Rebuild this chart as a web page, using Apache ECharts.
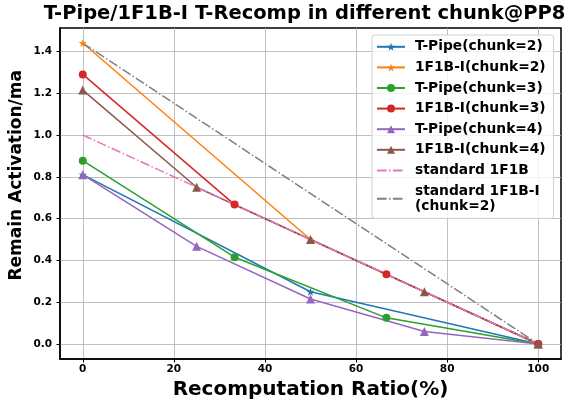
<!DOCTYPE html>
<html><head><meta charset="utf-8">
<script src="https://cdn.jsdelivr.net/npm/echarts@6/dist/echarts.min.js"></script>
<style>html,body{margin:0;padding:0;background:#fff}#c{width:577px;height:402px}</style>
</head><body><div id="c"></div>
<script>
const seriesNames = ['T-Pipe(chunk=2)','1F1B-I(chunk=2)','T-Pipe(chunk=3)','1F1B-I(chunk=3)','T-Pipe(chunk=4)','1F1B-I(chunk=4)','standard 1F1B','standard 1F1B-I(chunk=2)'];
const xChunk2 = [0, 50, 100];
const xChunk3 = [0, 33.33, 66.67, 100];
const xChunk4 = [0, 25, 50, 75, 100];
const xStd = [0, 100];
const tPipe2 = [0.81, 0.25, 0];
const f1b1i2 = [1.44, 0.5, 0];
const tPipe3 = [0.877, 0.415, 0.125, 0];
const f1b1i3 = [1.29, 0.667, 0.333, 0];
const tPipe4 = [0.81, 0.467, 0.215, 0.06, 0];
const f1b1i4 = [1.215, 0.75, 0.5, 0.25, 0];
const std1f1b = [1.0, 0];
const std1f1bI = [1.44, 0];
const xTicks = [0, 20, 40, 60, 80, 100];
const yTicks = [0, 0.2, 0.4, 0.6, 0.8, 1.0, 1.2, 1.4];

const colors = ['#1f77b4','#ff7f0e','#2ca02c','#d62728','#9467bd','#8c564b','#e377c2','#7f7f7f'];
const pairs = (xs, ys) => xs.map((x, i) => [x, ys[i]]);
const dashDot = [9.6, 2.4, 1.5, 2.4];
function mk(i, xs, ys, symbol, size, dashed) {
  return {
    name: seriesNames[i], type: 'line', data: pairs(xs, ys),
    symbol: symbol || 'none', symbolSize: size || 0, showSymbol: !!symbol,
    color: colors[i],
    lineStyle: {width: 1.5, color: colors[i], type: dashed ? dashDot : 'solid'},
    itemStyle: {color: colors[i]},
    z: 2, animation: false
  };
}
const star = 'path://M0,-10 L2.35,-3.24 L9.51,-3.09 L3.8,1.24 L5.88,8.09 L0,4 L-5.88,8.09 L-3.8,1.24 L-9.51,-3.09 L-2.35,-3.24 Z';
const tri = 'path://M0,-10 L8.66,5 L-8.66,5 Z';
const series = [
  mk(0, xChunk2, tPipe2, star, 8),
  mk(1, xChunk2, f1b1i2, star, 8),
  mk(2, xChunk3, tPipe3, 'circle', 8),
  mk(3, xChunk3, f1b1i3, 'circle', 8),
  mk(4, xChunk4, tPipe4, tri, 9),
  mk(5, xChunk4, f1b1i4, tri, 9),
  mk(6, xStd, std1f1b, null, 0, true),
  mk(7, xStd, std1f1bI, null, 0, true)
];
const font = 'DejaVu Sans';
const legendData = seriesNames.map((n, i) => i >= 6 ? {name: n, itemStyle: {opacity: 0}} : {name: n});
const chart = echarts.init(document.getElementById('c'), null, {renderer: 'canvas'});
chart.setOption({
  animation: false,
  backgroundColor: '#fff',
  title: {text: 'T-Pipe/1F1B-I T-Recomp in different chunk@PP8', left: 304.5, textAlign: 'center', top: 4, padding: 0,
    textStyle: {fontFamily: font, fontWeight: 'bold', fontSize: 19.5, color: '#000'}},
  grid: {left: 60, right: 16, top: 28, bottom: 43, show: true, borderColor: '#000', borderWidth: 1.5,
    backgroundColor: 'transparent', containLabel: false, outerBoundsMode: 'none'},
  legend: {
    orient: 'vertical', left: 372, top: 35, itemWidth: 28, itemHeight: 10, itemGap: 5,
    padding: [4, 8, 4, 4],
    backgroundColor: 'rgba(255,255,255,0.8)', borderColor: '#d0d0d0', borderWidth: 1, borderRadius: 3,
    textStyle: {fontFamily: font, fontWeight: 'bold', fontSize: 13.8, color: '#000', lineHeight: 15.6, padding: [0, 0, 0, 5]},
    formatter: n => n === 'standard 1F1B-I(chunk=2)' ? 'standard 1F1B-I\n(chunk=2)' : n,
    data: legendData
  },
  xAxis: {
    type: 'value', min: -5, max: 105,
    name: 'Recomputation Ratio(%)', nameLocation: 'middle', nameGap: 21,
    nameTextStyle: {fontFamily: font, fontWeight: 'bold', fontSize: 20, color: '#000'},
    axisLine: {show: true, onZero: false, lineStyle: {color: '#000', width: 1.5}},
    axisTick: {show: true, length: 3.5, customValues: xTicks, lineStyle: {color: '#000'}},
    axisLabel: {customValues: xTicks, fontFamily: font, fontWeight: 'bold', fontSize: 10.5, color: '#000', margin: 5},
    splitLine: {show: true, lineStyle: {color: '#b0b0b0', width: 0.8}}
  },
  yAxis: {
    type: 'value', min: -0.072, max: 1.512,
    axisLine: {show: true, onZero: false, lineStyle: {color: '#000', width: 1.5}},
    axisTick: {show: true, length: 3.5, customValues: yTicks, lineStyle: {color: '#000'}},
    axisLabel: {customValues: yTicks, formatter: v => v.toFixed(1), fontFamily: font, fontWeight: 'bold', fontSize: 10.5, color: '#000', margin: 8},
    splitLine: {show: true, lineStyle: {color: '#b0b0b0', width: 0.8}}
  },
  graphic: [{
    type: 'text', left: 8, top: 70, rotation: Math.PI / 2, silent: true,
    style: {text: 'Remain Activation/ma', fontFamily: font, fontWeight: 'bold', fontSize: 17, fill: '#000'}
  }],
  series: series
});
</script></body></html>
